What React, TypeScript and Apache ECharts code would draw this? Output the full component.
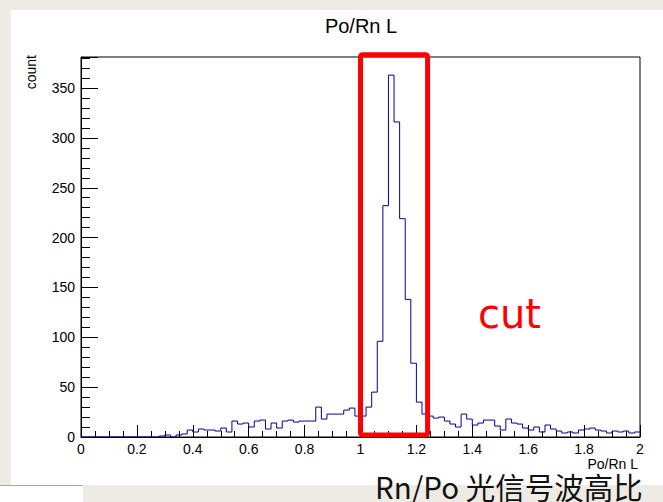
import React, { useEffect, useRef } from "react";
import * as echarts from "echarts";

// ---- data ----
const X_MIN = 0;
const X_MAX = 2;
const X_STEP = 0.2;
const BIN_WIDTH = 0.02;
const Y_MAX = 381.15; // ROOT: 1.05 x max bin
const Y_STEP = 50;
const Y_MINOR_STEP = 10;

// 100 bins of width 0.02 from 0 to 2
const counts: number[] = [
  0, 0, 0, 0, 0, 0, 0, 0, 0, 0, // 0.00-0.18
  0, 0, 0, 0, 1, 2, 0, 2, 3, 7, // 0.20-0.38
  5, 8, 7, 7, 6, 9, 5, 16, 13, 14, // 0.40-0.58
  10, 16, 17, 8, 14, 9, 16, 17, 15, 16, // 0.60-0.78
  16, 16, 30, 18, 23, 23, 23, 27, 29, 21, // 0.80-0.98
  21, 30, 45, 96, 232, 363, 316, 219, 138, 74, // 1.00-1.18
  35, 23, 21, 19, 20, 16, 13, 10, 23, 18, // 1.20-1.38
  12, 14, 17, 17, 11, 7, 18, 14, 13, 9, // 1.40-1.58
  7, 10, 5, 12, 8, 6, 4, 5, 4, 7, // 1.60-1.78
  8, 9, 7, 6, 4, 6, 5, 6, 4, 5, // 1.80-1.98
];

const CUT_X = [1.0, 1.24];
const CUT_Y = [2, 383.5];

const TITLE = "Po/Rn L";
const X_TITLE = "Po/Rn L";
const Y_TITLE = "count";
const CUT_LABEL = "cut";
const CAPTION = "Rn/Po 光信号波高比";

const FONT = "'Liberation Sans', Arial, Helvetica, sans-serif";

export default function App() {
  const ref = useRef<HTMLDivElement>(null);

  useEffect(() => {
    const el = ref.current;
    if (!el) return;
    const chart = echarts.init(el, null, { renderer: "svg" });

    const stepData: number[][] = [];
    counts.forEach((c, i) => {
      const x0 = X_MIN + i * BIN_WIDTH;
      stepData.push([x0, c], [x0 + BIN_WIDTH, c]);
    });

    const gridBox = { left: 81, top: 57, right: 23, bottom: 65 };

    chart.setOption({
      animation: false,
      grid: [
        {
          ...gridBox,
          show: true,
          borderColor: "#000",
          borderWidth: 1,
          backgroundColor: "transparent",
          containLabel: false,
          outerBoundsMode: "none",
        },
        { ...gridBox, show: false, containLabel: false, outerBoundsMode: "none" },
      ],
      xAxis: [
        {
          type: "value",
          gridIndex: 0,
          min: X_MIN,
          max: X_MAX,
          interval: X_STEP,
          z: 5,
          axisLine: { show: true, onZero: false, lineStyle: { color: "#000", width: 1 } },
          axisTick: { show: true, inside: true, length: 12, lineStyle: { color: "#000", width: 1 } },
          minorTick: { show: true, splitNumber: 4, length: 6, lineStyle: { color: "#000", width: 1 } },
          splitLine: { show: false },
          minorSplitLine: { show: false },
          axisLabel: {
            color: "#000",
            fontSize: 14,
            fontFamily: FONT,
            margin: 5,
            formatter: (v: number) => String(Math.round(v * 10) / 10),
          },
        },
        { type: "value", gridIndex: 1, min: X_MIN, max: X_MAX, show: false },
      ],
      yAxis: [
        {
          type: "value",
          gridIndex: 0,
          min: 0,
          max: Y_MAX,
          interval: Y_STEP,
          z: 5,
          axisLine: { show: true, onZero: false, lineStyle: { color: "#000", width: 1 } },
          axisTick: { show: true, inside: true, length: 17, lineStyle: { color: "#000", width: 1 } },
          splitLine: { show: false },
          axisLabel: {
            color: "#000",
            fontSize: 14,
            fontFamily: FONT,
            margin: 6,
            formatter: (v: number) => (v % Y_STEP === 0 ? String(v) : ""),
          },
        },
        {
          type: "value",
          gridIndex: 1,
          min: 0,
          max: Y_MAX,
          interval: Y_MINOR_STEP,
          z: 5,
          axisLine: { show: false },
          axisTick: { show: true, inside: true, length: 9, lineStyle: { color: "#000", width: 1 } },
          axisLabel: { show: false },
          splitLine: { show: false },
        },
      ],
      series: [
        {
          type: "line",
          xAxisIndex: 0,
          yAxisIndex: 0,
          z: 1,
          data: stepData,
          symbol: "none",
          silent: true,
          lineStyle: { color: "#000099", width: 1 },
        },
      ],
    });

    const pLow = chart.convertToPixel({ gridIndex: 0 }, [CUT_X[0], CUT_Y[0]]) as number[];
    const pHigh = chart.convertToPixel({ gridIndex: 0 }, [CUT_X[1], CUT_Y[1]]) as number[];

    chart.setOption({
      graphic: [
        {
          type: "rect",
          z: 20,
          shape: {
            x: pLow[0],
            y: pHigh[1],
            width: pHigh[0] - pLow[0],
            height: pLow[1] - pHigh[1],
            r: 2,
          },
          style: { fill: "none", stroke: "#ff0000", lineWidth: 5, lineJoin: "round" },
        },
        {
          type: "text",
          z: 20,
          x: 478,
          y: 314,
          style: {
            text: CUT_LABEL,
            fill: "#ff0000",
            fontSize: 40,
            fontFamily: "'DejaVu Sans', sans-serif",
            align: "left",
            verticalAlign: "middle",
          },
        },
        {
          type: "text",
          z: 20,
          x: 361,
          y: 26,
          style: {
            text: TITLE,
            fill: "#000",
            fontSize: 20,
            fontFamily: FONT,
            align: "center",
            verticalAlign: "middle",
          },
        },
        {
          type: "text",
          z: 20,
          x: 31,
          y: 55,
          rotation: Math.PI / 2,
          style: {
            text: Y_TITLE,
            fill: "#000",
            fontSize: 14,
            fontFamily: FONT,
            align: "right",
            verticalAlign: "middle",
          },
        },
        {
          type: "text",
          z: 20,
          x: 638,
          y: 464,
          style: {
            text: X_TITLE,
            fill: "#000",
            fontSize: 14,
            fontFamily: FONT,
            align: "right",
            verticalAlign: "middle",
          },
        },
        {
          type: "text",
          z: 20,
          x: 375,
          y: 486,
          style: {
            text: CAPTION,
            fill: "#111",
            fontSize: 29.5,
            fontFamily: "'Noto Sans CJK SC', sans-serif",
            align: "left",
            verticalAlign: "middle",
          },
        },
      ],
    });

    return () => {
      chart.dispose();
    };
  }, []);

  return (
    <div
      style={{
        position: "fixed",
        left: 0,
        top: 0,
        width: 663,
        height: 502,
        background: "#eeebe4",
        overflow: "hidden",
      }}
    >
      <div
        style={{
          position: "absolute",
          left: 11,
          top: 10,
          width: 652,
          height: 475,
          background: "#ffffff",
        }}
      />
      <div
        style={{
          position: "absolute",
          left: 0,
          top: 485,
          width: 83,
          height: 17,
          background: "#ffffff",
          borderTop: "1px solid #a8a8a8",
        }}
      />
      <div
        ref={ref}
        style={{ position: "absolute", left: 0, top: 0, width: 663, height: 502 }}
      />
    </div>
  );
}
